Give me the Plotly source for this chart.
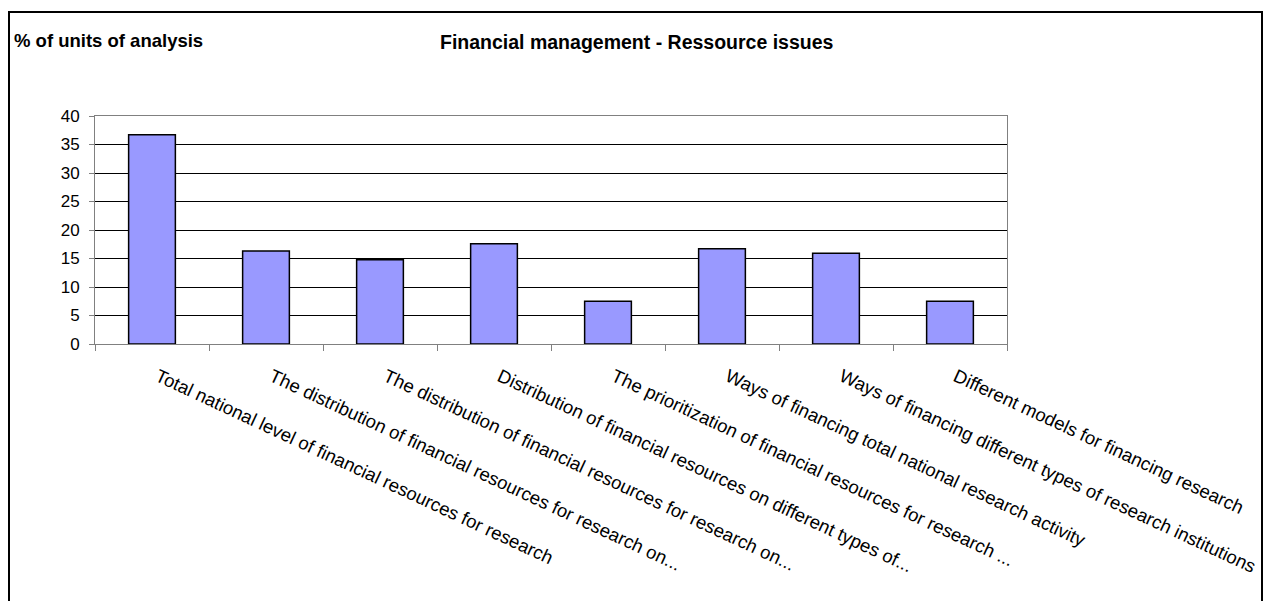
import plotly.graph_objects as go

# Survey results: share of units of analysis mentioning each resource issue
categories = [
    "Total national level of financial resources for research",
    "The distribution of financial resources for research on...",
    "The distribution of financial resources for research on...",
    "Distribution of financial resources on different types of...",
    "The prioritization of financial resources for research ...",
    "Ways of financing total national research activity",
    "Ways of financing different types of research institutions",
    "Different models for financing research",
]
values = [36.7, 16.3, 14.8, 17.6, 7.5, 16.7, 15.9, 7.5]
y_ticks = [0, 5, 10, 15, 20, 25, 30, 35, 40]

W, H = 1265, 601
L, R, T, B = 95, 1007, 116, 344  # plot area in pixels

def px_x(p):
    return (p - L) / (R - L)

def px_y(p):
    return (B - p) / (B - T)

FONT = "Liberation Sans, Arial, sans-serif"
positions = list(range(len(categories)))

fig = go.Figure()
fig.add_trace(go.Bar(
    x=positions,
    y=values,
    marker=dict(color="#9999FF", line=dict(color="black", width=1.5)),
    width=0.41,
    hoverinfo="y",
))
# invisible trace to carry the boundary ticks on the second x axis
fig.add_trace(go.Scatter(x=[-0.5, 7.5], y=[0, 0], xaxis="x2", mode="lines",
                         line=dict(width=0), hoverinfo="skip", showlegend=False))

fig.update_layout(
    width=W, height=H,
    margin=dict(l=L, r=W - R, t=T, b=H - B, autoexpand=False),
    paper_bgcolor="white",
    plot_bgcolor="white",
    showlegend=False,
    font=dict(family=FONT, size=16, color="black"),
    xaxis=dict(
        range=[-0.5, 7.5],
        tickmode="array",
        tickvals=positions,
        ticktext=categories,
        tickangle=25,
        ticks="",
        showgrid=False,
        zeroline=False,
        showline=True, linecolor="#808080", linewidth=1, mirror=True,
        tickfont=dict(family=FONT, size=18.5, color="black"),
        ticklabelstandoff=14,
        ticklabelshift=6,
        automargin=False,
        fixedrange=True,
    ),
    xaxis2=dict(
        overlaying="x",
        side="bottom",
        range=[-0.5, 7.5],
        tickmode="array",
        tickvals=[i - 0.5 for i in range(len(categories) + 1)],
        showticklabels=False,
        ticks="outside", ticklen=6, tickcolor="#808080", tickwidth=1,
        showgrid=False, zeroline=False, showline=False,
        automargin=False,
    ),
    yaxis=dict(
        range=[0, 40],
        tickmode="array",
        tickvals=y_ticks,
        ticks="outside", ticklen=5, tickcolor="#808080", tickwidth=1,
        showgrid=True, gridcolor="black", gridwidth=1,
        zeroline=False,
        showline=True, linecolor="#808080", linewidth=1, mirror=True,
        tickfont=dict(family=FONT, size=17, color="black"),
        ticklabelstandoff=6,
        automargin=False,
        fixedrange=True,
    ),
    bargap=0.59,
)

# chart frame
fig.add_shape(type="rect", xref="paper", yref="paper",
              x0=px_x(9), x1=px_x(1262), y0=px_y(640), y1=px_y(12),
              line=dict(color="black", width=2), fillcolor="rgba(0,0,0,0)",
              layer="below")

# value-axis caption and chart title
fig.add_annotation(xref="paper", yref="paper", x=px_x(12), y=px_y(40),
                   xanchor="left", yanchor="middle", showarrow=False,
                   text="<b>% of units of analysis</b>",
                   font=dict(family=FONT, size=18.5, color="black"))
fig.add_annotation(xref="paper", yref="paper", x=px_x(637), y=px_y(42),
                   xanchor="center", yanchor="middle", showarrow=False,
                   text="<b>Financial management - Ressource issues</b>",
                   font=dict(family=FONT, size=19.5, color="black"))

fig.write_html("out.html")
